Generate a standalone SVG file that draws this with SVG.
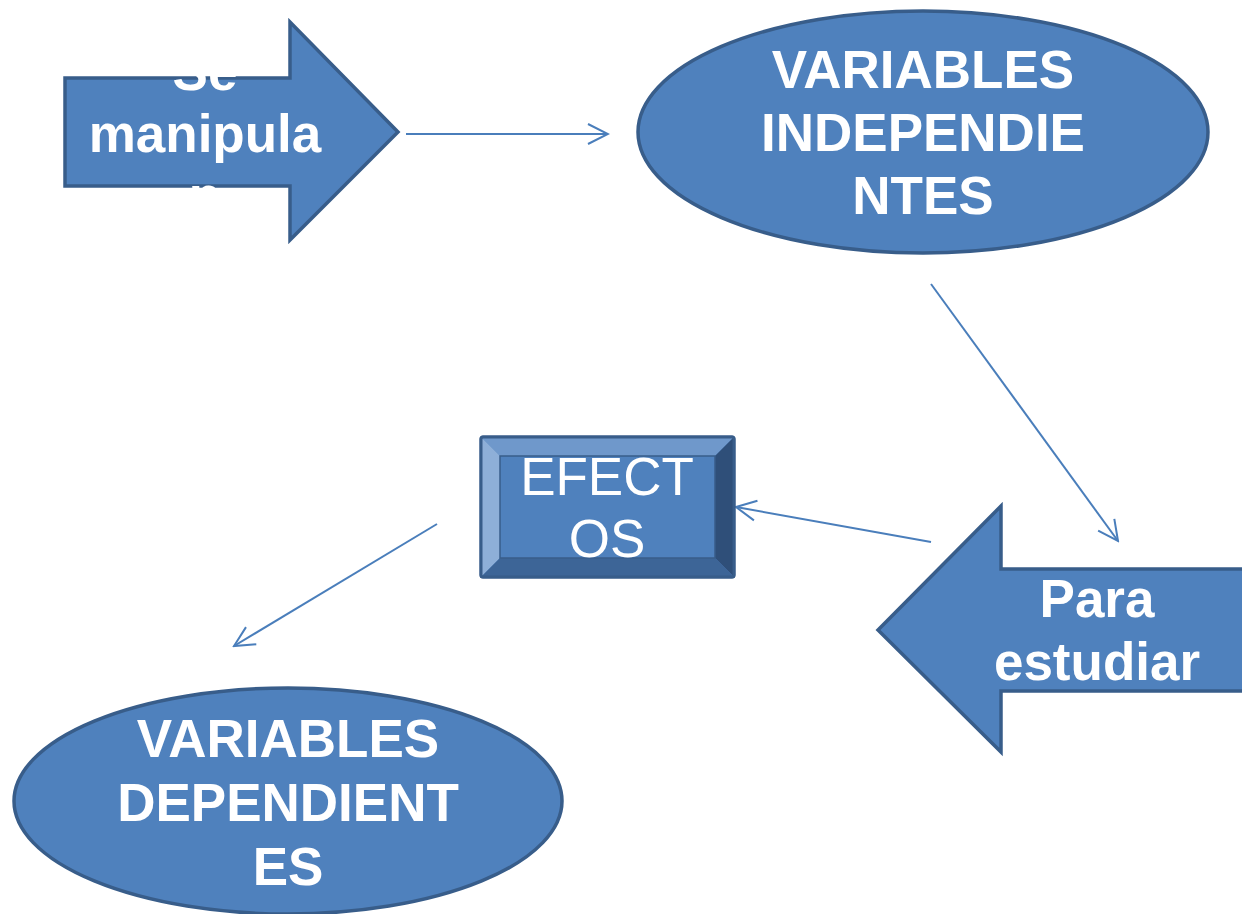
<svg xmlns="http://www.w3.org/2000/svg" width="1242" height="914" viewBox="0 0 1242 914">
<style>
.shape{fill:#4f81bd;stroke:#385d8a;stroke-width:3.5;stroke-linejoin:miter}
.bt{font-family:"Liberation Sans",Arial,sans-serif;font-weight:bold;font-size:53px;fill:#fff;text-anchor:middle}
.rt{font-family:"Liberation Sans",Arial,sans-serif;font-size:53px;fill:#fff;text-anchor:middle}
.conn{stroke:#4a7ebb;stroke-width:2;fill:none}
</style>
<defs>
<marker id="open" viewBox="0 0 24 24" refX="22" refY="12" markerWidth="24" markerHeight="24" markerUnits="userSpaceOnUse" orient="auto">
<path d="M2,2 L22,12 L2,22" fill="none" stroke="#4a7ebb" stroke-width="2"/>
</marker>
<clipPath id="clipSe"><rect x="60" y="73" width="300" height="120"/></clipPath>
</defs>
<rect width="1242" height="914" fill="#fff"/>
<g id="connectors">
<line class="conn" x1="406" y1="134" x2="608" y2="134" marker-end="url(#open)"/>
<line class="conn" x1="931" y1="284" x2="1118" y2="541" marker-end="url(#open)"/>
<line class="conn" x1="931" y1="542" x2="736" y2="507" marker-end="url(#open)"/>
<line class="conn" x1="437" y1="524" x2="234" y2="646" marker-end="url(#open)"/>
</g>
<g id="node-se-manipulan">
<path class="shape" d="M65,78 L290,78 L290,22 L398,132 L290,240 L290,186 L65,186 Z"/>
<g clip-path="url(#clipSe)">
<text class="bt" x="205" y="90">Se</text>
<text class="bt" x="205" y="152">manipula</text>
<text class="bt" x="205" y="214">n</text>
</g>
</g>
<g id="node-var-indep">
<ellipse class="shape" cx="923" cy="132" rx="285" ry="121"/>
<text class="bt" x="923" y="88">VARIABLES</text>
<text class="bt" x="923" y="151">INDEPENDIE</text>
<text class="bt" x="923" y="214">NTES</text>
</g>
<g id="node-efectos">
<rect x="481" y="437" width="253" height="140" fill="#4f81bd" stroke="#385d8a" stroke-width="3" rx="2"/>
<polygon points="482,438 733,438 715,456 500,456" fill="#6f98cb"/>
<polygon points="482,438 500,456 500,558 482,576" fill="#8eafd8"/>
<polygon points="733,438 733,576 715,558 715,456" fill="#2f4f79"/>
<polygon points="482,576 500,558 715,558 733,576" fill="#3d6597"/>
<rect x="500" y="456" width="215" height="102" fill="#4f81bd" stroke="#385d8a" stroke-width="1.5"/>
<rect x="481" y="437" width="253" height="140" fill="none" stroke="#385d8a" stroke-width="3" rx="2"/>
<text class="rt" x="607" y="495">EFECT</text>
<text class="rt" x="607" y="557">OS</text>
</g>
<g id="node-para-estudiar">
<path class="shape" d="M1250,569 L1001,569 L1001,506 L878,630 L1001,752 L1001,691 L1250,691 Z"/>
<text class="bt" x="1097" y="617">Para</text>
<text class="bt" x="1097" y="680">estudiar</text>
</g>
<g id="node-var-dep">
<ellipse class="shape" cx="288" cy="801" rx="274" ry="113"/>
<text class="bt" x="288" y="757">VARIABLES</text>
<text class="bt" x="288" y="821">DEPENDIENT</text>
<text class="bt" x="288" y="885">ES</text>
</g>
</svg>
